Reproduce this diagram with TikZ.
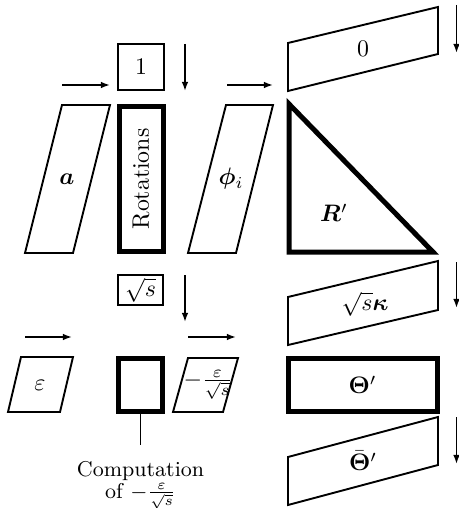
\documentclass[tikz,border=0pt]{standalone}
\usepackage{amsmath,bm}
\usetikzlibrary{arrows.meta}
\begin{document}
\begin{tikzpicture}[x=0.42pt,y=-0.42pt,
  thinbox/.style={line width=0.8pt,line join=miter},
  thickbox/.style={line width=2.1pt,line join=miter},
  flow/.style={line width=0.8pt,-{Latex[length=3.8pt,width=2.8pt]}},
  lbl/.style={inner sep=0pt}]
\useasboundingbox (0,0) rectangle (458,508);
% ---------- top section ----------
\node[draw,thinbox,minimum width=46*0.42pt,minimum height=46*0.42pt,inner sep=0pt] (one) at (141,67) {$1$};
\draw[thinbox] (25,253) -- (73,253) -- (110,105) -- (62,105) -- cycle;
\node[lbl] (a) at (67,179) {$\bm{a}$};
\node[draw,thickbox,minimum width=44*0.42pt,minimum height=145*0.42pt,inner sep=0pt] (rot) at (141,179) {};
\node[lbl,rotate=90] at (rot.center) {Rotations};
\draw[thinbox] (188,253) -- (236,253) -- (273,105) -- (226,105) -- cycle;
\node[lbl] (phi) at (231,179) {$\bm{\phi}_i$};
\draw[thinbox] (288,43) -- (288,91) -- (438,54) -- (438,7) -- cycle;
\node[lbl] (zero) at (363,49) {$0$};
\draw[thickbox] (289,104) -- (289,252) -- (433,252) -- cycle;
\node[lbl] (R) at (334,213) {$\bm{R}'$};
% arrows
\coordinate (a1s) at (62,85);  \coordinate (a1e) at (110,85);
\coordinate (a2s) at (185,44); \coordinate (a2e) at (185,91);
\coordinate (a3s) at (227,85); \coordinate (a3e) at (273,85);
\coordinate (a4s) at (456.5,5); \coordinate (a4e) at (456.5,53);
\draw[flow] (a1s) -- (a1e);
\draw[flow] (a2s) -- (a2e);
\draw[flow] (a3s) -- (a3e);
\draw[flow] (a4s) -- (a4e);
% ---------- bottom section ----------
\node[draw,thinbox,minimum width=45*0.42pt,minimum height=30*0.42pt,inner sep=0pt] (sq) at (140.5,290) {$\sqrt{s}$};
\draw[thinbox] (8,412) -- (60,412) -- (73,357) -- (21,357) -- cycle;
\node[lbl] (eps) at (40,385) {$\varepsilon$};
\node[draw,thickbox,minimum width=44*0.42pt,minimum height=53*0.42pt,inner sep=0pt] (comp) at (140.5,385) {};
\draw[thinbox] (173,412) -- (223,412) -- (238,358) -- (188,358) -- cycle;
\node[lbl] (res) at (208,385) {$-\frac{\varepsilon}{\sqrt{s}}$};
\draw[thinbox] (288,297) -- (288,345) -- (438,310) -- (438,261) -- cycle;
\node[lbl] (sk) at (365,304) {$\sqrt{s}\bm{\kappa}$};
\node[draw,thickbox,minimum width=149*0.42pt,minimum height=53*0.42pt,inner sep=0pt] (th) at (362.5,385) {};
\node[lbl] at (th.center) {$\bm{\Theta}'$};
\draw[thinbox] (288,457) -- (288,505) -- (438,465) -- (438,417) -- cycle;
\node[lbl] (thb) at (363,461) {$\bar{\bm{\Theta}}'$};
\coordinate (cl) at (140.5,445);
\draw[line width=0.8pt] (comp.south) -- (cl);
\node[lbl,align=center,anchor=north,font=\fontsize{9}{9}\selectfont] (ctext) at (140.5,461) {Computation\\ of $-\frac{\varepsilon}{\sqrt{s}}$};
% arrows
\coordinate (b1s) at (185,275); \coordinate (b1e) at (185,322);
\coordinate (b2s) at (25,337);  \coordinate (b2e) at (72,337);
\coordinate (b3s) at (188,337); \coordinate (b3e) at (236,337);
\coordinate (b4s) at (456.5,262); \coordinate (b4e) at (456.5,308);
\coordinate (b5s) at (456.5,417); \coordinate (b5e) at (456.5,464);
\draw[flow] (b1s) -- (b1e);
\draw[flow] (b2s) -- (b2e);
\draw[flow] (b3s) -- (b3e);
\draw[flow] (b4s) -- (b4e);
\draw[flow] (b5s) -- (b5e);
\end{tikzpicture}
\end{document}
